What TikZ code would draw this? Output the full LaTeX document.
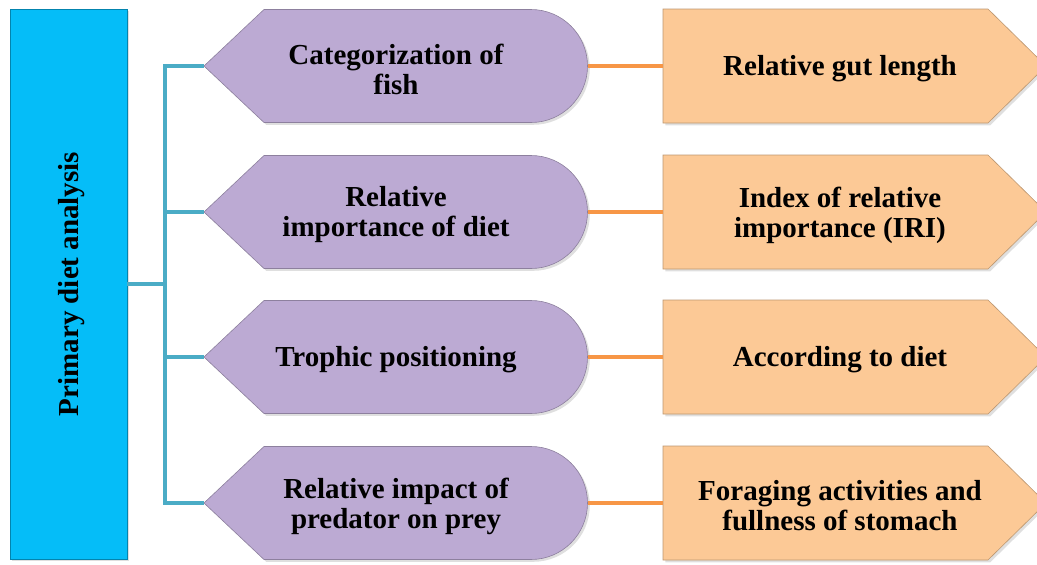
\documentclass[tikz,border=0pt]{standalone}
\usepackage{fontspec}
\setmainfont{Liberation Serif}
\usetikzlibrary{calc,shadows}

\definecolor{rootblue}{HTML}{05BDF8}
\definecolor{dietlilac}{HTML}{BCAAD3}
\definecolor{methpeach}{HTML}{FCC996}
\definecolor{branchteal}{HTML}{4BACC6}
\definecolor{linkorange}{HTML}{F79646}

\tikzset{
  lbl/.style={font=\fontsize{29}{30}\selectfont\bfseries, align=center},
  rootbox/.style={fill=rootblue, draw=rootblue!70!black, line width=0.8pt, minimum width=117, minimum height=550, drop shadow={opacity=0.25}},
  dietfill/.style={fill=dietlilac, draw=dietlilac!75!black, line width=0.6pt, drop shadow={opacity=0.25}},
  methfill/.style={fill=methpeach, draw=methpeach!75!black, line width=0.6pt, drop shadow={opacity=0.25}},
  tealline/.style={branchteal, line width=4.5pt},
  orangeline/.style={linkorange, line width=4.5pt}
}

\begin{document}
\begin{tikzpicture}[x=1pt,y=1pt]
\useasboundingbox (0,0) rectangle (1037,-565);

% root box
\node[rootbox] (root) at (68.5,-284) {};
\node[lbl, rotate=90] (roottxt) at ($(root)+(3,0)$) {Primary diet analysis};
\coordinate (hub) at (165,-284);
\draw[tealline] (root.east) -- (hub);

% rows
\foreach \i/\y/\dtext/\mtext in {1/66/{Categorization of\\fish}/{Relative gut length},
    2/212/{Relative\\importance of diet}/{Index of relative\\importance (IRI)},
    3/357/{Trophic positioning}/{According to diet},
    4/503/{Relative impact of\\predator on prey}/{Foraging activities and\\fullness of stomach}}{
  \coordinate (c\i) at (396,-\y);
  \coordinate (o\i) at (663,-\y);
  \fill[dietfill] ($(c\i)+(-192,0)$) -- ($(c\i)+(-132,56.5)$) -- ($(c\i)+(135,56.5)$)
      arc[start angle=90, end angle=-90, radius=56.5] -- ($(c\i)+(-132,-56.5)$) -- cycle;
  \fill[methfill] ($(o\i)+(0,57)$) -- ($(o\i)+(325,57)$) -- ($(o\i)+(383,0)$)
      -- ($(o\i)+(325,-57)$) -- ($(o\i)+(0,-57)$) -- cycle;
  \node[lbl, minimum width=384] (d\i) at ($(c\i)+(0,-3)$) {\dtext};
  \node[lbl] (m\i) at (840,-\y-3) {\mtext};
  \draw[tealline] (hub) |- (c\i -| d\i.west);
  \draw[orangeline] (c\i -| d\i.east) -- (o\i);
}
\end{tikzpicture}
\end{document}
